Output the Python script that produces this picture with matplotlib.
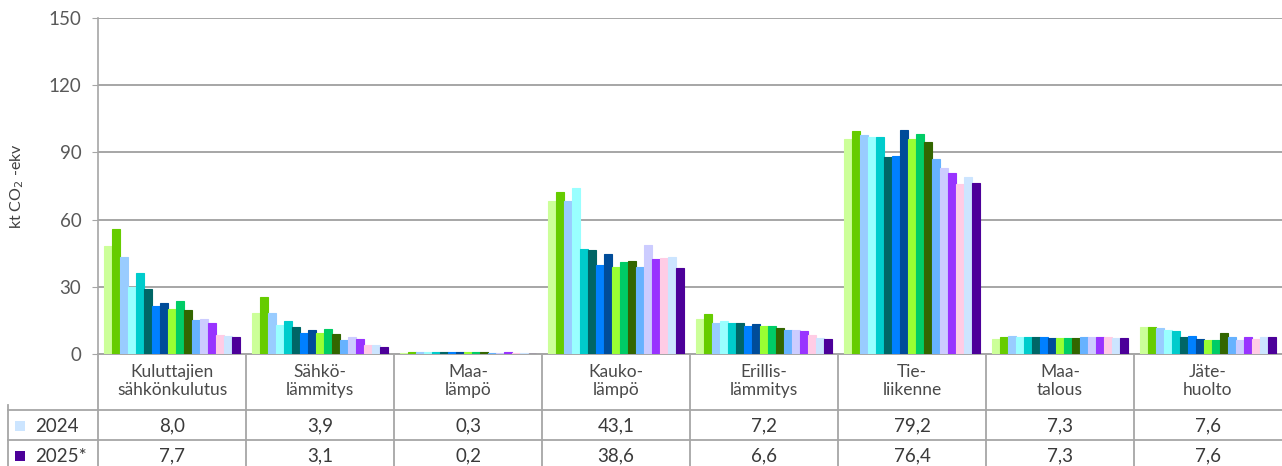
import matplotlib
matplotlib.use("Agg")
import matplotlib.pyplot as plt
from matplotlib.lines import Line2D
from matplotlib.patches import Rectangle
import numpy as np

plt.rcParams['font.family'] = ['Lato', 'DejaVu Sans']
plt.rcParams['font.weight'] = 'normal'

years = ['2009', '2010', '2011', '2012', '2013', '2014', '2015', '2016', '2017',
         '2018', '2019', '2020', '2021', '2022', '2023', '2024', '2025*']
colors = ['#CCFF99', '#66CC00', '#99CCFF', '#99FFFF', '#00CCCC', '#006666',
          '#0080FF', '#004C99', '#99FF33', '#00CC66', '#336600', '#66B2FF',
          '#CCCCFF', '#9933FF', '#FFCCE5', '#CCE5FF', '#4C0099']

categories = ['Kuluttajien\nsähkönkulutus', 'Sähkö-\nlämmitys', 'Maa-\nlämpö',
              'Kauko-\nlämpö', 'Erillis-\nlämmitys', 'Tie-\nliikenne',
              'Maa-\ntalous', 'Jäte-\nhuolto']

kuluttajien_sahkonkulutus = [48.2, 55.8, 43.4, 29.8, 36.2, 29.2, 21.6, 22.9, 20.2,
                             23.8, 19.6, 15.3, 15.8, 13.8, 8.5, 8.0, 7.7]
sahkolammitys = [18.5, 25.6, 18.5, 13.1, 14.9, 11.9, 9.4, 10.6, 9.4,
                 11.0, 8.9, 6.4, 7.6, 6.7, 4.2, 3.9, 3.1]
maalampo = [0.6, 0.8, 0.8, 0.7, 0.8, 0.8, 0.8, 0.8, 0.7,
            0.8, 0.8, 0.6, 0.6, 0.7, 0.4, 0.3, 0.2]
kaukolampo = [68.4, 72.3, 68.4, 74.1, 46.7, 46.3, 39.6, 44.6, 39.0,
              41.2, 41.7, 38.7, 48.5, 42.4, 42.9, 43.1, 38.6]
erillislammitys = [15.6, 17.9, 14.0, 14.7, 13.7, 13.7, 12.3, 13.2, 12.6,
                   12.3, 11.5, 10.6, 10.6, 10.1, 8.5, 7.2, 6.6]
tieliikenne = [96.1, 99.5, 97.9, 96.7, 96.7, 87.8, 88.5, 100.0, 95.8,
               98.1, 94.6, 86.9, 83.2, 80.9, 75.9, 79.2, 76.4]
maatalous = [6.7, 7.6, 8.0, 7.6, 7.6, 7.6, 7.6, 7.1, 7.1,
             7.1, 7.1, 7.6, 7.6, 7.6, 7.6, 7.3, 7.3]
jatehuolto = [11.9, 11.9, 11.5, 10.6, 10.1, 7.6, 8.0, 6.7, 6.3,
              6.3, 9.2, 7.6, 6.3, 7.6, 6.7, 7.6, 7.6]

data = [kuluttajien_sahkonkulutus, sahkolammitys, maalampo, kaukolampo,
        erillislammitys, tieliikenne, maatalous, jatehuolto]
yticks = [0, 30, 60, 90, 120, 150]

W, H = 1282, 466
fig = plt.figure(figsize=(W / 100, H / 100), dpi=100)

def fx(px):
    return px / W

def fy(py):
    return 1 - py / H

ax_left, ax_right, ax_top, ax_bottom = 98, 1282, 18, 354
ax = fig.add_axes([fx(ax_left), fy(ax_bottom), fx(ax_right - ax_left),
                   (ax_bottom - ax_top) / H])

n_cat = len(categories)
n_ser = len(years)
group = 0.919
w = group / n_ser
x = np.arange(n_cat)
for j in range(n_ser):
    vals = [data[i][j] for i in range(n_cat)]
    ax.bar(x + (j - (n_ser - 1) / 2) * w, vals, width=w, color=colors[j],
           edgecolor=colors[j], linewidth=0.8, zorder=3)

ax.set_xlim(-0.5, n_cat - 0.5)
ax.set_ylim(0, 150)
ax.set_yticks(yticks)
ax.set_yticklabels([str(t) for t in yticks], fontsize=13.5, color='#595959')
ax.set_xticks([])
ax.yaxis.grid(True, color='#A6A6A6', linewidth=1.4, zorder=0)
for s in ['top', 'right']:
    ax.spines[s].set_visible(False)
ax.spines['left'].set_color('#A6A6A6')
ax.spines['bottom'].set_color('#A6A6A6')
ax.spines['left'].set_linewidth(1.2)
ax.spines['bottom'].set_linewidth(1.4)
ax.tick_params(axis='y', length=4, color='#A6A6A6', pad=8)
ax.set_ylabel('kt CO$_2$ -ekv', fontsize=11.5, color='#404040', labelpad=16)

# Category label area and data table
line_kw = dict(color='#A6A6A6', linewidth=1.3, transform=fig.transFigure)
catw = (ax_right - ax_left) / n_cat
for k in range(n_cat):
    xb = ax_left + k * catw
    fig.add_artist(Line2D([fx(xb), fx(xb)], [fy(354), fy(466)], **line_kw))
fig.add_artist(Line2D([fx(8), fx(8)], [fy(405), fy(466)], **line_kw))
for yl in [410, 440]:
    fig.add_artist(Line2D([fx(8), fx(1282)], [fy(yl), fy(yl)], **line_kw))

txt_color = '#3A3A3A'
for i, lab in enumerate(categories):
    cx = ax_left + (i + 0.5) * catw
    fig.text(fx(cx), fy(381), lab, ha='center', va='center', fontsize=12.5,
             color='#4A4A4A', linespacing=1.15)
    fig.text(fx(cx), fy(426), f"{data[i][-2]:.1f}".replace('.', ','),
             ha='center', va='center', fontsize=13.5, color=txt_color)
    fig.text(fx(cx), fy(456), f"{data[i][-1]:.1f}".replace('.', ','),
             ha='center', va='center', fontsize=13.5, color=txt_color)

for row_y, j in [(426, n_ser - 2), (456, n_ser - 1)]:
    fig.add_artist(Rectangle((fx(15), fy(row_y + 5)), 10 / W, 10 / H,
                             transform=fig.transFigure, color=colors[j],
                             linewidth=0))
    fig.text(fx(35), fy(row_y), years[j], ha='left', va='center',
             fontsize=13.5, color=txt_color)

fig.savefig('out.png', dpi=100)
